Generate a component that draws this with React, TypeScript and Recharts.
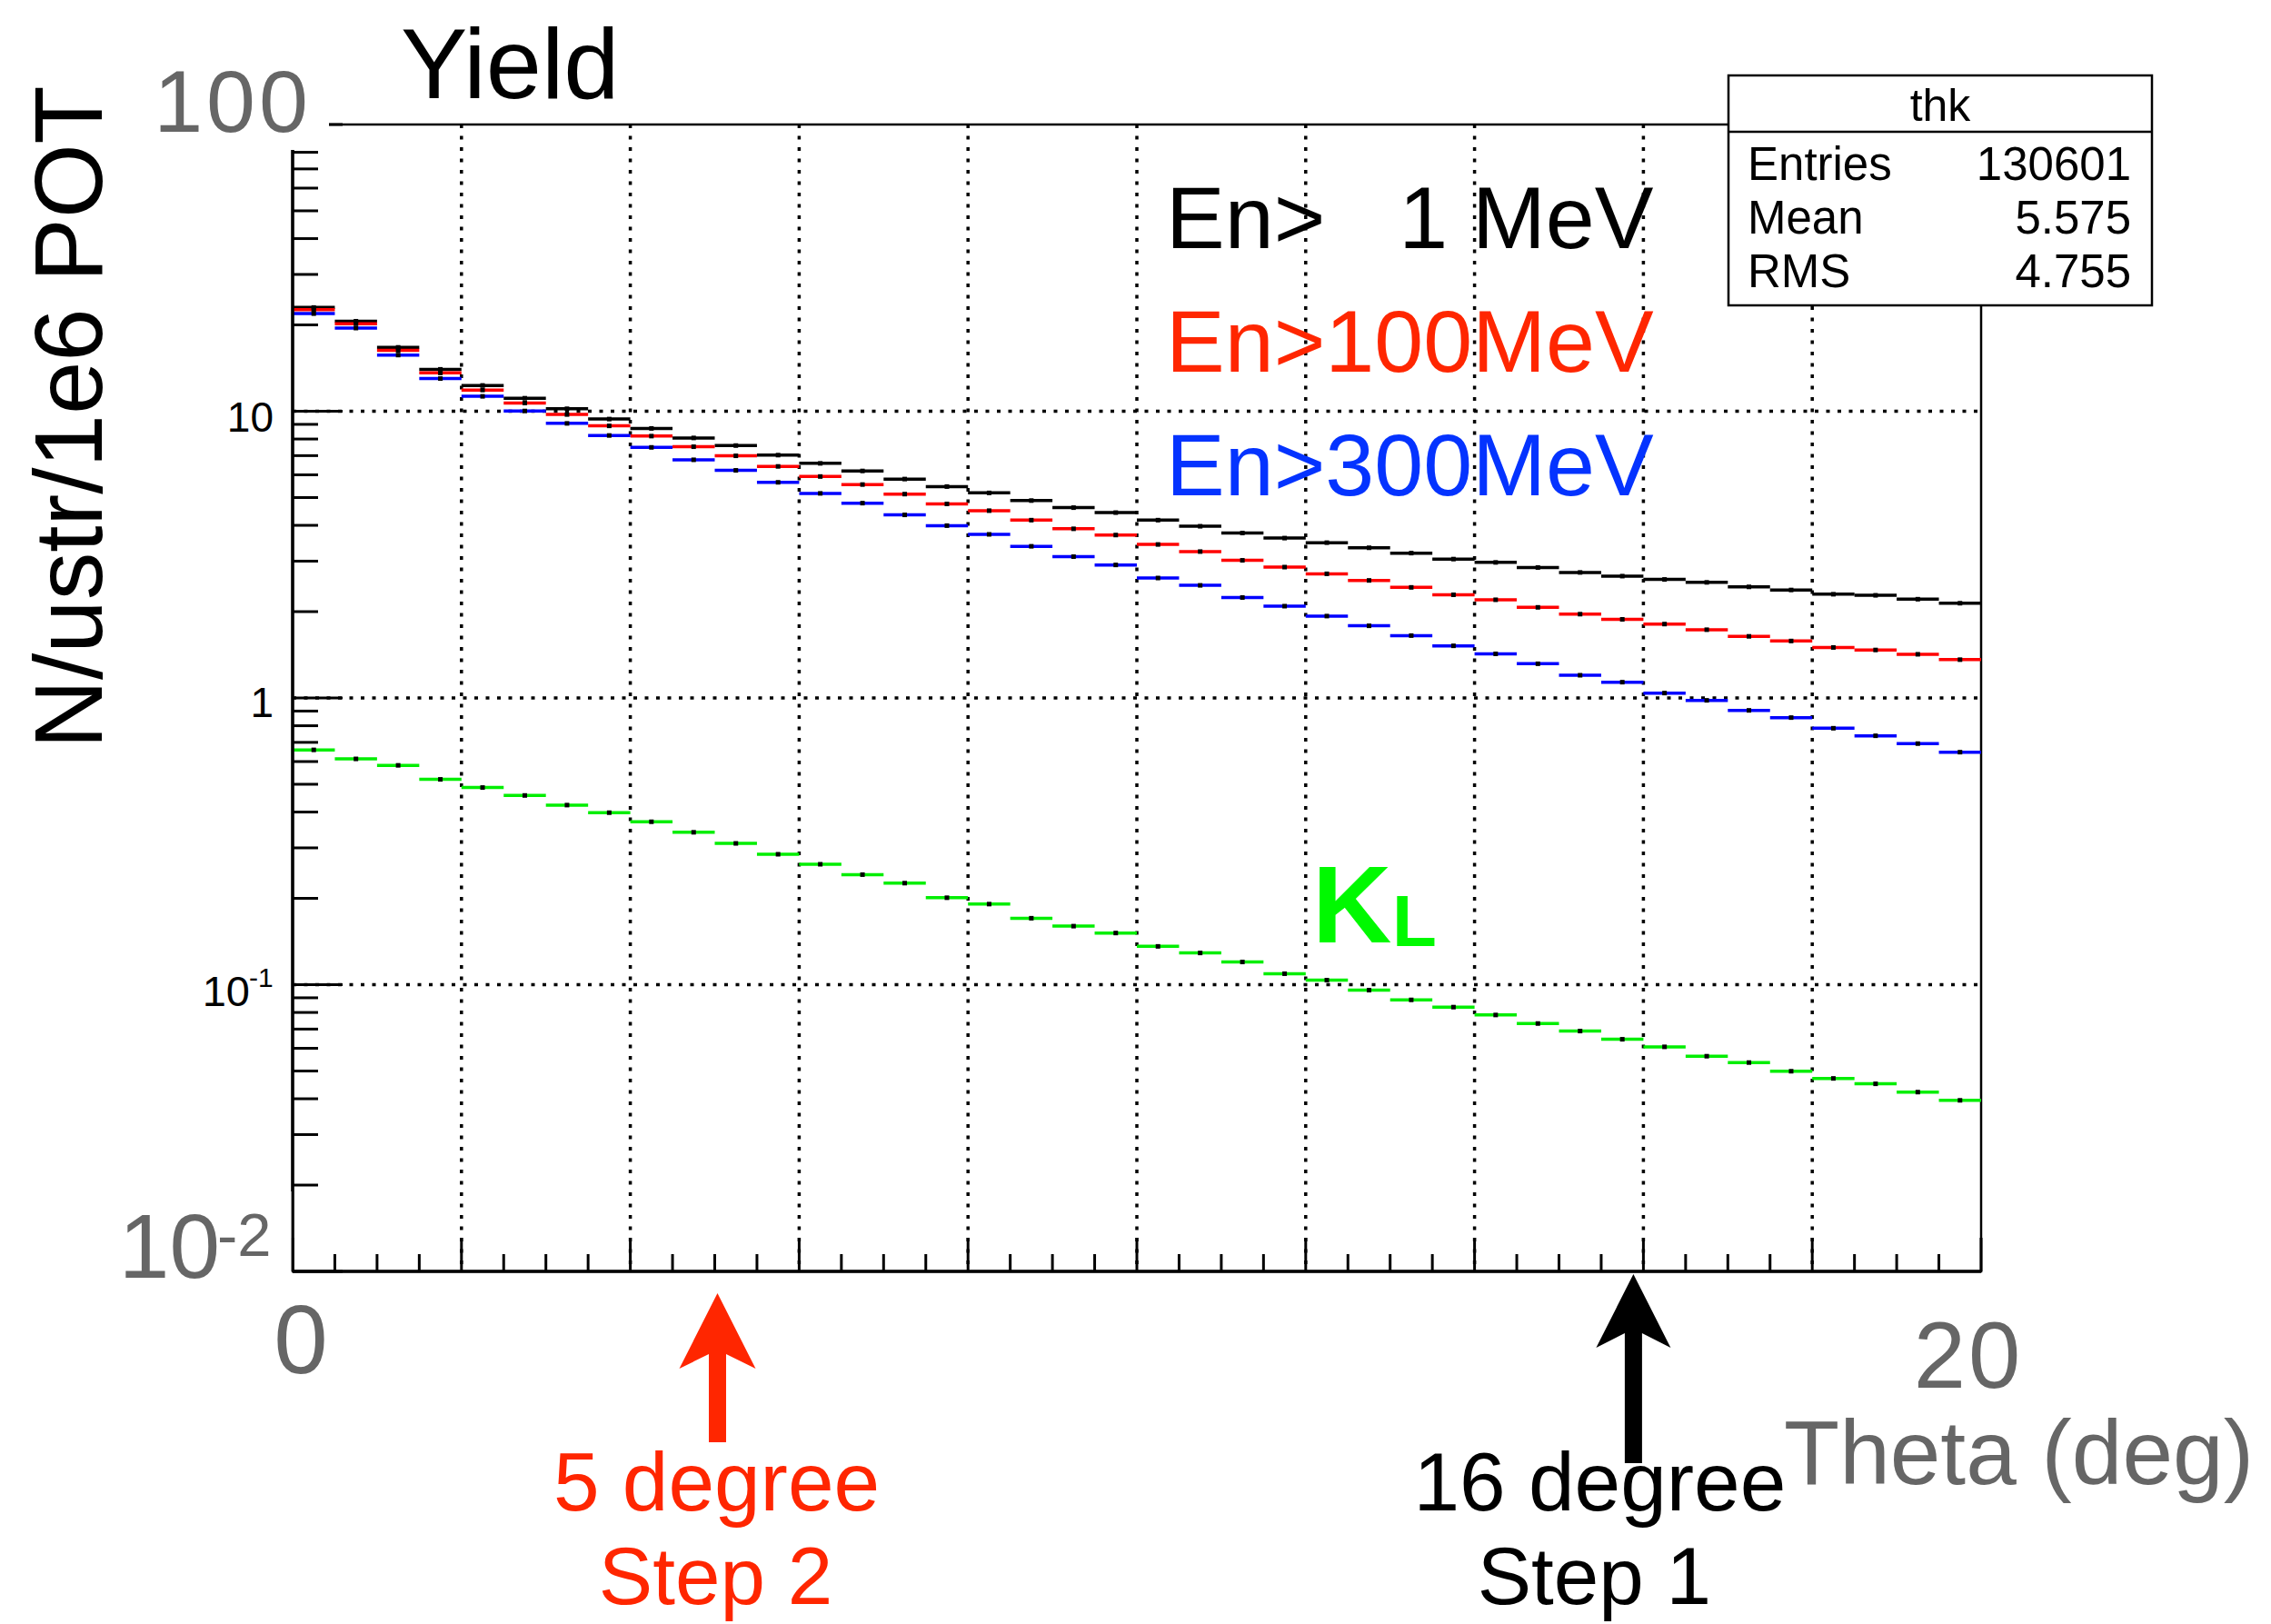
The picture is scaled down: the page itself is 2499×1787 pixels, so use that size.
import React from 'react';
import {
  ComposedChart,
  Scatter,
  XAxis,
  YAxis,
  CartesianGrid,
  ErrorBar,
  ReferenceArea,
  ReferenceDot,
} from 'recharts';

// ---------- data ----------
const thetaCenters = [
  0.25, 0.75, 1.25, 1.75, 2.25, 2.75, 3.25, 3.75, 4.25, 4.75,
  5.25, 5.75, 6.25, 6.75, 7.25, 7.75, 8.25, 8.75, 9.25, 9.75,
  10.25, 10.75, 11.25, 11.75, 12.25, 12.75, 13.25, 13.75, 14.25, 14.75,
  15.25, 15.75, 16.25, 16.75, 17.25, 17.75, 18.25, 18.75, 19.25, 19.75,
];
const binHalfWidth = 0.25;

const yieldEn1MeV = [
  23.0, 20.6, 16.7, 14.0, 12.3, 11.1, 10.2, 9.39, 8.71, 8.07,
  7.59, 7.03, 6.58, 6.19, 5.8, 5.46, 5.19, 4.88, 4.61, 4.43,
  4.17, 3.97, 3.76, 3.61, 3.48, 3.34, 3.2, 3.05, 2.97, 2.85,
  2.74, 2.66, 2.59, 2.53, 2.44, 2.38, 2.3, 2.28, 2.21, 2.14,
];
const yieldEn100MeV = [
  22.6, 20.2, 16.3, 13.6, 11.86, 10.68, 9.74, 8.89, 8.19, 7.52,
  6.99, 6.42, 5.92, 5.55, 5.14, 4.75, 4.5, 4.17, 3.89, 3.7,
  3.43, 3.24, 3.02, 2.86, 2.71, 2.57, 2.43, 2.29, 2.2, 2.07,
  1.96, 1.88, 1.81, 1.73, 1.64, 1.58, 1.5, 1.47, 1.42, 1.36,
];
const yieldEn300MeV = [
  21.9, 19.5, 15.7, 13.0, 11.27, 10.02, 9.07, 8.23, 7.48, 6.77,
  6.22, 5.65, 5.17, 4.78, 4.35, 3.99, 3.72, 3.38, 3.11, 2.91,
  2.62, 2.47, 2.24, 2.09, 1.93, 1.785, 1.65, 1.52, 1.425, 1.316,
  1.2, 1.135, 1.04, 0.981, 0.905, 0.854, 0.784, 0.738, 0.693, 0.647,
];
const yieldKL = [
  0.659, 0.613, 0.582, 0.52, 0.487, 0.457, 0.423, 0.398, 0.37, 0.34,
  0.311, 0.285, 0.263, 0.242, 0.226, 0.201, 0.191, 0.1705, 0.16, 0.1514,
  0.136, 0.129, 0.12, 0.1092, 0.1037, 0.0957, 0.0885, 0.0835, 0.0784, 0.0732,
  0.0689, 0.0645, 0.0607, 0.0563, 0.0535, 0.0499, 0.0471, 0.0451, 0.0422, 0.0395,
];

const xTicks = [
  0, 0.5, 1, 1.5, 2, 2.5, 3, 3.5, 4, 4.5, 5, 5.5, 6, 6.5, 7, 7.5, 8, 8.5, 9, 9.5,
  10, 10.5, 11, 11.5, 12, 12.5, 13, 13.5, 14, 14.5, 15, 15.5, 16, 16.5, 17, 17.5,
  18, 18.5, 19, 19.5, 20,
];
const xMajorTicks = [0, 2, 4, 6, 8, 10, 12, 14, 16, 18, 20];
const xGridValues = [2, 4, 6, 8, 10, 12, 14, 16, 18];

const yTicks = [
  0.01, 0.02, 0.03, 0.04, 0.05, 0.06, 0.07, 0.08, 0.09,
  0.1, 0.2, 0.3, 0.4, 0.5, 0.6, 0.7, 0.8, 0.9,
  1, 2, 3, 4, 5, 6, 7, 8, 9,
  10, 20, 30, 40, 50, 60, 70, 80, 90, 100,
];
const yMajorTicks = [0.01, 0.1, 1, 10, 100];
const yGridValues = [0.1, 1, 10];

const seriesNames = ['En>   1 MeV', 'En>100MeV', 'En>300MeV'];
const statsLabels = ['Entries', 'Mean', 'RMS'];
const statsValues = ['130601', '5.575', '4.755'];

const arrowAngles = [5, 16];
const arrowTexts = [
  ['5 degree', 'Step 2'],
  ['16 degree', 'Step 1'],
];

// ---------- styling ----------
const FONT = '"Liberation Sans", Arial, Helvetica, sans-serif';
const GRAY = '#666666';
const W = 2499;
const H = 1787;

const makeData = (vals: number[]) =>
  thetaCenters.map((x, i) => ({ x, y: vals[i], xerr: binHalfWidth }));

const series = [
  { data: makeData(yieldEn1MeV), color: '#000000' },
  { data: makeData(yieldEn100MeV), color: '#ff0000' },
  { data: makeData(yieldEn300MeV), color: '#0000ff' },
  { data: makeData(yieldKL), color: '#00ee00' },
];

const Marker = (p: any) => {
  if (p.cx == null || p.cy == null) return <g />;
  return <rect x={p.cx - 2.5} y={p.cy - 2.5} width={5} height={5} fill="#000" />;
};

function YTick(props: any) {
  const { x, y, payload } = props;
  const v = payload.value;
  const major = yMajorTicks.includes(v);
  const len = major ? 55 : 28;
  return (
    <g>
      <line x1={x} y1={y} x2={x + len} y2={y} stroke="#000" strokeWidth={3} />
      {v === 100 && (
        <g>
          <rect x={x - 152} y={y - 77} width={192} height={105} fill="#fff" />
          <text x={x + 21} y={y + 8} textAnchor="end" fontSize={97} fill={GRAY} fontFamily={FONT} letterSpacing={4}>
            100
          </text>
        </g>
      )}
      {v === 10 && (
        <text x={x - 21} y={y + 22} textAnchor="end" fontSize={46} fill="#000" fontFamily={FONT}>
          10
        </text>
      )}
      {v === 1 && (
        <text x={x - 21} y={y + 21} textAnchor="end" fontSize={46} fill="#000" fontFamily={FONT}>
          1
        </text>
      )}
      {v === 0.1 && (
        <g>
          <text x={x - 47} y={y + 23} textAnchor="end" fontSize={47} fill="#000" fontFamily={FONT}>
            10
          </text>
          <text x={x - 48} y={y + 2} textAnchor="start" fontSize={30} fill="#000" fontFamily={FONT}>
            -1
          </text>
        </g>
      )}
      {v === 0.01 && (
        <g>
          <rect x={x - 200} y={y - 88} width={198.5} height={120} fill="#fff" />
          <text x={x - 80} y={y + 7} textAnchor="end" fontSize={100} fill={GRAY} fontFamily={FONT}>
            10
          </text>
          <text x={x - 83} y={y - 17} textAnchor="start" fontSize={67} fill={GRAY} fontFamily={FONT}>
            -2
          </text>
        </g>
      )}
    </g>
  );
}

function XTick(props: any) {
  const { x, y, payload } = props;
  const v = payload.value;
  const major = xMajorTicks.includes(v);
  const len = major ? 37 : 19;
  return (
    <g>
      <line x1={x} y1={y} x2={x} y2={y - len} stroke="#000" strokeWidth={3} />
      {v === 0 && (
        <text x={x + 9} y={y + 112} textAnchor="middle" fontSize={107} fill={GRAY} fontFamily={FONT}>
          0
        </text>
      )}
      {v === 20 && (
        <text x={x - 14} y={y + 128} textAnchor="middle" fontSize={103} fill={GRAY} fontFamily={FONT} letterSpacing={3}>
          20
        </text>
      )}
    </g>
  );
}

const makeArrow = (idx: number) => (p: any) => {
  const cx = p.cx;
  const cy = p.cy;
  if (cx == null || cy == null) return <g />;
  const red = idx === 0;
  const color = red ? '#ff2600' : '#000000';
  const ax = red ? cx + 3 : cx - 11;
  const tip = red ? cy + 24 : cy + 3;
  const base = red ? cy + 107 : cy + 84;
  const hw = red ? 42 : 41;
  const sw = 9.5;
  const bottom = red ? cy + 188 : cy + 211;
  const notch = 16;
  const pts = [
    [ax, tip],
    [ax + hw, base],
    [ax + sw, base - notch],
    [ax + sw, bottom],
    [ax - sw, bottom],
    [ax - sw, base - notch],
    [ax - hw, base],
  ]
    .map((q) => q.join(','))
    .join(' ');
  const tx1 = red ? cx + 2 : cx - 48;
  const tx2 = red ? cx + 1 : cx - 54;
  return (
    <g>
      <polygon points={pts} fill={color} />
      <text x={tx1} y={cy + 263} textAnchor="middle" fontSize={91} fill={color} fontFamily={FONT}>
        {arrowTexts[idx][0]}
      </text>
      <text x={tx2} y={cy + 366} textAnchor="middle" fontSize={89} fill={color} fontFamily={FONT}>
        {arrowTexts[idx][1]}
      </text>
    </g>
  );
};

const gridLine = { stroke: '#000', strokeWidth: 3.5, strokeDasharray: '4 8.5' };

export default function App() {
  return (
    <div style={{ position: 'absolute', left: 0, top: 0, width: W, height: H, background: '#fff' }}>
      <ComposedChart
        width={W}
        height={H}
        margin={{ top: 137, right: 319, bottom: 338, left: 222 }}
        style={{ position: 'absolute', left: 0, top: 0 }}
      >
        <CartesianGrid
          horizontal={gridLine}
          vertical={gridLine}
          horizontalValues={yGridValues}
          verticalValues={xGridValues}
          stroke="#000"
          strokeWidth={3.5}
          strokeDasharray="4 8.5"
        />
        <XAxis
          dataKey="x"
          type="number"
          domain={[0, 20]}
          allowDataOverflow
          ticks={xTicks}
          interval={0}
          height={50}
          tickSize={0}
          tickMargin={0}
          tickLine={false}
          axisLine={{ stroke: '#000', strokeWidth: 3.5 }}
          tick={(p: any) => <XTick {...p} />}
        />
        <YAxis
          type="number"
          scale="log"
          domain={[0.01, 100]}
          allowDataOverflow
          ticks={yTicks}
          interval={0}
          width={100}
          tickSize={0}
          tickMargin={0}
          tickLine={false}
          axisLine={{ stroke: '#000', strokeWidth: 3.5 }}
          tick={(p: any) => <YTick {...p} />}
        />
        <ReferenceArea x1={0} x2={20} y1={0.01} y2={100} fill="none" stroke="#000" strokeWidth={2.5} />
        {series.map((s, i) => (
          <Scatter
            key={i}
            data={s.data}
            dataKey="y"
            fill="#000"
            shape={Marker}
            isAnimationActive={false}
          >
            <ErrorBar
              dataKey="xerr"
              direction="x"
              width={0}
              stroke={s.color}
              strokeWidth={3.5}
              isAnimationActive={false}
            />
          </Scatter>
        ))}
        {arrowAngles.map((a, i) => (
          <ReferenceDot key={'arr' + i} x={a} y={0.01} ifOverflow="visible" shape={makeArrow(i)} />
        ))}
      </ComposedChart>
      <svg
        width={W}
        height={H}
        style={{ position: 'absolute', left: 0, top: 0, pointerEvents: 'none' }}
        fontFamily={FONT}
      >
        <text x={441} y={108} fontSize={110} fill="#000">
          Yield
        </text>
        <text
          transform="translate(112,459) rotate(-90)"
          textAnchor="middle"
          fontSize={105}
          fill="#000"
        >
          N/ustr/1e6 POT
        </text>
        <text x={1283} y={273} fontSize={97} fill="#000" style={{ whiteSpace: 'pre' }}>
          {seriesNames[0]}
        </text>
        <text x={1283} y={409} fontSize={97} fill="#ff2600">
          {seriesNames[1]}
        </text>
        <text x={1283} y={545} fontSize={97} fill="#0433ff">
          {seriesNames[2]}
        </text>
        <text x={1444} y={1037} fontSize={121} fontWeight="bold" fill="#00f900">
          K
        </text>
        <text x={1532} y={1041} fontSize={80} fontWeight="bold" fill="#00f900">
          L
        </text>
        <text x={2480} y={1633} textAnchor="end" fontSize={100} fill={GRAY}>
          Theta (deg)
        </text>
        <rect x={1902} y={83} width={466} height={253} fill="#fff" stroke="#000" strokeWidth={2.5} />
        <line x1={1902} y1={145} x2={2368} y2={145} stroke="#000" strokeWidth={2.5} />
        <text x={2135} y={133} textAnchor="middle" fontSize={50} fill="#000">
          thk
        </text>
        {statsLabels.map((l, i) => (
          <g key={l}>
            <text x={1923} y={198 + i * 59} fontSize={51} fill="#000">
              {l}
            </text>
            <text x={2345} y={198 + i * 59} textAnchor="end" fontSize={51} fill="#000">
              {statsValues[i]}
            </text>
          </g>
        ))}
      </svg>
    </div>
  );
}
